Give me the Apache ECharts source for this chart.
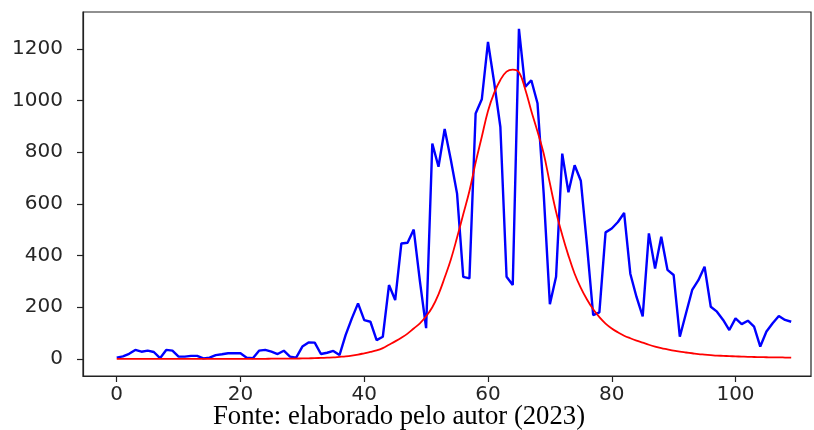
<!DOCTYPE html>
<html><head><meta charset="utf-8">
<script src="https://cdn.jsdelivr.net/npm/echarts@6/dist/echarts.min.js"></script>
<style>html,body{margin:0;padding:0;background:#fff}#c{width:814px;height:430px}</style>
</head><body><div id="c"></div>
<script>
const dayIndex = Array.from({length: 110}, (_, i) => i);
const observed = [
  5, 10, 20, 35, 28, 32, 27, 3, 35, 32,
  9, 9, 12, 12, 2, 5, 15, 18, 22, 22,
  22, 5, 3, 32, 35, 28, 19, 32, 9, 5,
  48, 64, 63, 19, 24, 31, 15, 93, 157, 215,
  150, 144, 73, 86, 286, 228, 447, 450, 501, 300,
  119, 834, 744, 890, 770, 640, 318, 312, 950, 1005,
  1227, 1070, 898, 318, 286, 1278, 1053, 1079, 990, 640,
  212, 318, 795, 645, 750, 690, 440, 170, 180, 490,
  505, 530, 565, 330, 240, 165, 486, 350, 473, 345,
  325, 86, 177, 267, 305, 357, 202, 183, 151, 112,
  157, 135, 148, 125, 48, 106, 138, 166, 151, 144
];
const fitted = [
  0, 0, 0, 0, 0, 0, 0, 0, 0, 0,
  0, 0, 0, 0, 0, 0, 0, 0, 0, 0,
  0, 0, 0.5, 0.5, 0.5, 1, 1, 1, 1, 1.5,
  2, 2.5, 3, 4, 5, 6, 8, 10, 13, 17,
  22, 27, 33, 42, 55, 68, 82, 98, 118, 138,
  165, 200, 250, 315, 385, 470, 560, 650, 760, 860,
  960, 1030, 1080, 1112, 1120, 1110, 1045, 960, 880, 795,
  680, 570, 480, 400, 330, 275, 230, 192, 162, 137,
  118, 103, 90, 80, 71, 63, 55, 48, 42, 37,
  32, 28, 25, 22, 19, 17, 15, 13, 12, 11,
  10, 9, 8, 7.5, 7, 6.5, 6, 6, 5.5, 5
];
const xTicks = [0, 20, 40, 60, 80, 100];
const yTicks = [0, 200, 400, 600, 800, 1000, 1200];
const caption = 'Fonte: elaborado pelo autor (2023)';

const chart = echarts.init(document.getElementById('c'), null, {renderer: 'canvas'});
const labelFont = {fontFamily: 'DejaVu Sans', fontSize: 20, color: '#262626'};
const axisStyle = {color: '#222', width: 1.2};
chart.setOption({
  animation: false,
  backgroundColor: '#fff',
  grid: {left: 83, right: 3, top: 12, bottom: 54, show: true, borderColor: '#222', borderWidth: 1.2, backgroundColor: 'transparent'},
  xAxis: {
    type: 'value', min: -5.45, max: 112.2,
    splitLine: {show: false},
    axisLine: {show: true, onZero: false, lineStyle: axisStyle},
    axisTick: {show: true, inside: false, length: 6, lineStyle: axisStyle, customValues: xTicks},
    axisLabel: Object.assign({margin: 9, customValues: xTicks, formatter: v => String(v)}, labelFont)
  },
  yAxis: {
    type: 'value', min: -66, max: 1343,
    splitLine: {show: false},
    axisLine: {show: true, onZero: false, lineStyle: axisStyle},
    axisTick: {show: true, inside: false, length: 6, lineStyle: axisStyle, customValues: yTicks},
    axisLabel: Object.assign({margin: 20, customValues: yTicks, formatter: v => String(v)}, labelFont)
  },
  series: [
    {type: 'line', data: dayIndex.map((d, i) => [d, observed[i]]), showSymbol: false,
     lineStyle: {color: '#0000ff', width: 2.4}, itemStyle: {color: '#0000ff'}},
    {type: 'line', data: dayIndex.map((d, i) => [d, fitted[i]]), showSymbol: false, smooth: 0.4,
     lineStyle: {color: '#ff0000', width: 1.8}, itemStyle: {color: '#ff0000'}}
  ],
  graphic: [{
    type: 'text', left: 213, top: 403,
    style: {text: caption, fontFamily: 'Liberation Serif', fontSize: 26.7, fill: '#000'}
  }]
});
</script></body></html>
